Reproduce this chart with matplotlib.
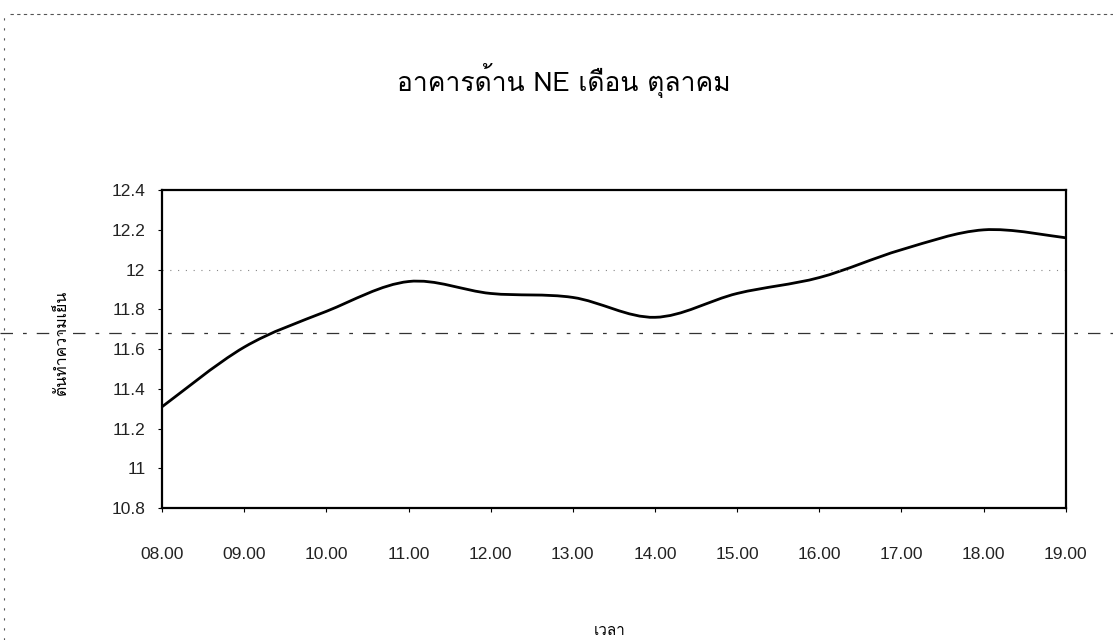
import os
import numpy as np
import matplotlib
matplotlib.use("Agg")
import matplotlib.pyplot as plt
from matplotlib import font_manager
from matplotlib.lines import Line2D
from matplotlib.path import Path
from matplotlib.patches import PathPatch

# ===============================
# DATA
# ===============================

hours = ["08.00", "09.00", "10.00", "11.00", "12.00", "13.00",
         "14.00", "15.00", "16.00", "17.00", "18.00", "19.00"]
cooling_tons = [11.31, 11.61, 11.79, 11.94, 11.88, 11.86,
                11.76, 11.88, 11.96, 12.10, 12.20, 12.16]
y_ticks = [10.8, 11.0, 11.2, 11.4, 11.6, 11.8, 12.0, 12.2, 12.4]
y_tick_labels = ["10.8", "11", "11.2", "11.4", "11.6", "11.8", "12", "12.2", "12.4"]

title = "อาคารด้าน NE เดือน ตุลาคม"
x_label = "เวลา"
y_label = "ตันทำความเย็น"

# ===============================
# FONTS
# ===============================

loma = "/usr/share/fonts/opentype/tlwg/Loma.otf"
if os.path.exists(loma):
    font_manager.fontManager.addfont(loma)
thai_font = ["Loma", "DejaVu Sans"]
plt.rcParams["font.family"] = ["Liberation Sans", "DejaVu Sans"]

# ===============================
# FIGURE
# ===============================

fig = plt.figure(figsize=(11.13, 6.4), dpi=100)
ax = fig.add_axes([0.1456, 0.206, 0.812, 0.497])

# smoothed line (Excel style bezier through the points)
x = np.arange(len(hours), dtype=float)
y = np.array(cooling_tons)
n = len(x)
verts = [(x[0], y[0])]
codes = [Path.MOVETO]
for i in range(n - 1):
    a = max(i - 1, 0)
    b = min(i + 2, n - 1)
    c1 = (x[i] + (x[i + 1] - x[a]) / 6, y[i] + (y[i + 1] - y[a]) / 6)
    c2 = (x[i + 1] - (x[b] - x[i]) / 6, y[i + 1] - (y[b] - y[i]) / 6)
    verts += [c1, c2, (x[i + 1], y[i + 1])]
    codes += [Path.CURVE4] * 3
ax.add_patch(PathPatch(Path(verts, codes), fill=False, lw=2.0,
                       edgecolor="black", capstyle="round"))

ax.axhline(12.0, color="#888888", lw=0.8, linestyle=(0, (1, 6)))

ax.set_xlim(0, len(hours) - 1)
ax.set_ylim(10.8, 12.4)
ax.set_xticks(x)
ax.set_xticklabels(hours)
ax.set_yticks(y_ticks)
ax.set_yticklabels(y_tick_labels)

for side in ax.spines.values():
    side.set_linewidth(1.6)
    side.set_color("black")

ax.tick_params(axis="x", direction="out", length=3, width=0.8,
               pad=25, labelsize=12.5, colors="black")
ax.tick_params(axis="y", direction="out", length=3, width=0.8,
               pad=9, labelsize=12.5, colors="black")
for lab in ax.get_xticklabels() + ax.get_yticklabels():
    lab.set_color("#222222")

# ===============================
# TEXT
# ===============================

fig.text(564 / 1113, 1 - 80 / 640, title, ha="center", va="center",
         fontsize=19, family=thai_font)
fig.text(610 / 1113, 1 - 631 / 640, x_label, ha="center", va="center",
         fontsize=11, family=thai_font)
fig.text(62 / 1113, 1 - 342 / 640, y_label, ha="center", va="center",
         rotation=90, fontsize=11.5, family=thai_font)

# scan marks: page border and fold line
fig.add_artist(Line2D([10 / 1113, 1.0], [1 - 14 / 640, 1 - 14 / 640],
                      transform=fig.transFigure, color="#555555",
                      lw=0.8, linestyle=(0, (3, 3))))
fig.add_artist(Line2D([4 / 1113, 4 / 1113], [0.0, 1 - 14 / 640],
                      transform=fig.transFigure, color="#555555",
                      lw=0.8, linestyle=(0, (2, 7))))
fig.add_artist(Line2D([0.0, 1.0], [1 - 333 / 640, 1 - 333 / 640],
                      transform=fig.transFigure, color="#333333",
                      lw=0.9, linestyle=(0, (10, 8, 3, 8))))

fig.savefig("out.png", dpi=100)
